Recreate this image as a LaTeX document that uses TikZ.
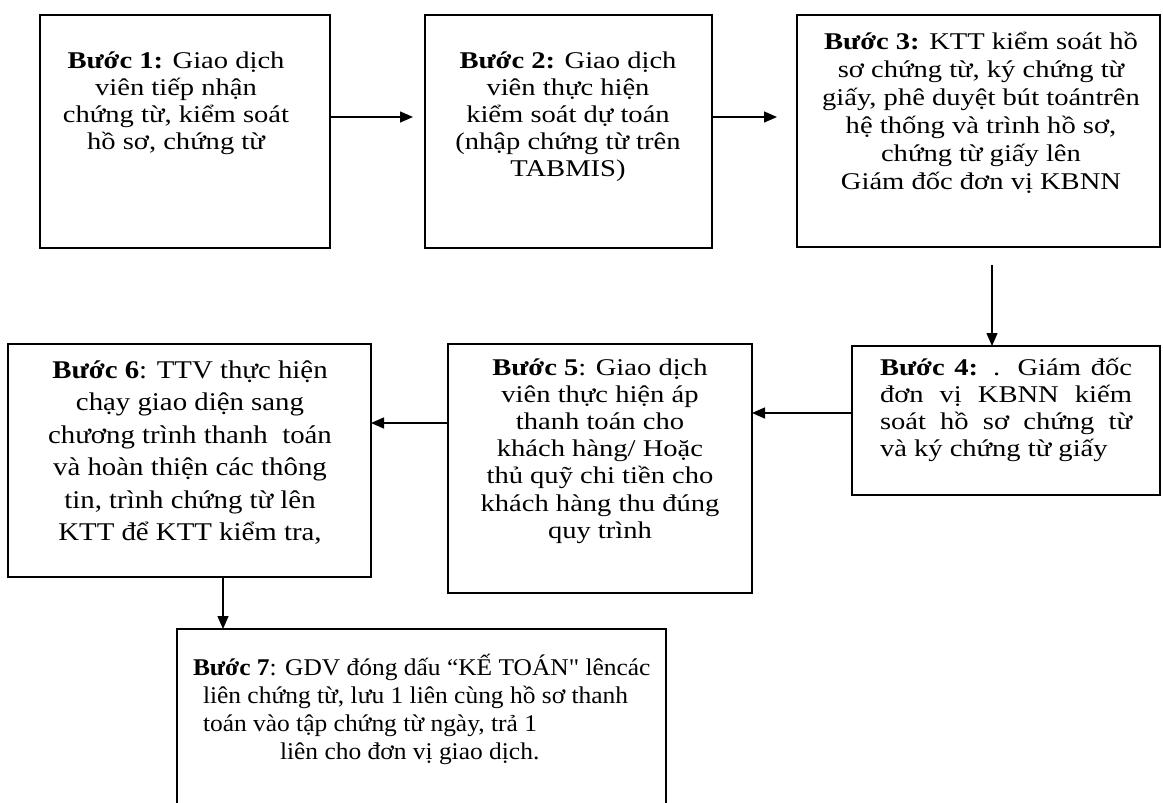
\documentclass[tikz,border=0pt]{standalone}
\usepackage{fontspec}
\newfontfamily\widefont[FakeStretch=1.19]{Liberation Serif}
\newfontfamily\midfont[FakeStretch=1.13]{Liberation Serif}
\newfontfamily\narrowfont[FakeStretch=1.06]{Liberation Serif}
\usetikzlibrary{arrows.meta}
\newcommand\tstrut{\rule{0pt}{21pt}}
\begin{document}
\begin{tikzpicture}[x=1pt,y=-1pt,
 box/.style={draw, line width=1.4pt, rectangle, inner sep=0pt, outer sep=0pt},
 txt/.style={inner sep=0pt, outer sep=0pt, font=\widefont\fontsize{24}{28}\selectfont, align=center, anchor=north},
 arr/.style={line width=1.4pt, -{Triangle[length=13pt,width=11pt]}}]
\useasboundingbox (0,0) rectangle (1163,803);
\clip (0,0) rectangle (1163,803);
\fill[white] (0,0) rectangle (1163,803);
% boxes
\node[box, minimum width=290pt, minimum height=233pt] (b1) at (185,131.5) {};
\node[box, minimum width=287pt, minimum height=233pt] (b2) at (568.5,131.5) {};
\node[box, minimum width=363pt, minimum height=232pt] (b3) at (978.5,131) {};
\node[box, minimum width=308pt, minimum height=149pt] (b4) at (1006,420.5) {};
\node[box, minimum width=304pt, minimum height=249pt] (b5) at (600,468.5) {};
\node[box, minimum width=363pt, minimum height=233pt] (b6) at (189.5,460.5) {};
\node[box, minimum width=489pt, minimum height=191pt] (b7) at (421.5,724.5) {};
% texts
\node[txt, font=\widefont\fontsize{24}{27}\selectfont] (t1) at (176,47) {\tstrut\textbf{Bước 1:} Giao dịch\\ viên tiếp nhận\\ chứng từ, kiểm soát\\ hồ sơ, chứng từ};
\node[txt, font=\widefont\fontsize{24}{27}\selectfont] (t2) at (568,47) {\tstrut\textbf{Bước 2:} Giao dịch\\ viên thực hiện\\ kiểm soát dự toán\\ (nhập chứng từ trên\\ TABMIS)};
\node[txt] (t3) at (981,28) {\tstrut\textbf{Bước 3:} KTT kiểm soát hồ\\ sơ chứng từ, ký chứng từ\\ giấy, phê duyệt bút toántrên\\ hệ thống và trình hồ sơ,\\ chứng từ giấy lên\\ Giám đốc đơn vị KBNN};
\node[txt, font=\widefont\fontsize{24}{27}\selectfont, anchor=north west, text width=252pt, align=justify] (t4) at (880,354) {\tstrut\textbf{Bước 4:} . Giám đốc\linebreak đơn vị KBNN kiếm\linebreak soát hồ sơ chứng từ\linebreak và ký chứng từ giấy};
\node[txt, font=\widefont\fontsize{24}{27.2}\selectfont] (t5) at (600,354) {\tstrut\textbf{Bước 5}: Giao dịch\\ viên thực hiện áp\\ thanh toán cho\\ khách hàng/ Hoặc\\ thủ quỹ chi tiền cho\\ khách hàng thu đúng\\ quy trình};
\node[txt, font=\midfont\fontsize{25.5}{32.5}\selectfont] (t6) at (190,356) {\rule{0pt}{22pt}\textbf{Bước 6}: TTV thực hiện\\ chạy giao diện sang\\ chương trình thanh\ \ toán\\ và hoàn thiện các thông\\ tin, trình chứng từ lên\\ KTT để KTT kiểm tra,};
\node[txt, font=\narrowfont\fontsize{24}{28}\selectfont, anchor=north west, align=left] (t7) at (193,654) {\tstrut\textbf{Bước 7}: GDV đóng dấu “KẾ TOÁN" lêncác\\ \hspace*{10pt}liên chứng từ, lưu 1 liên cùng hồ sơ thanh\\ \hspace*{10pt}toán vào tập chứng từ ngày, trả 1\\ \hspace*{87pt}liên cho đơn vị giao dịch.};
% arrows
\draw[arr, shorten >=12pt] ([yshift=14.5pt]b1.east) -- ([yshift=14.5pt]b1.east -| b2.west);
\draw[arr, shorten >=20pt] ([yshift=14.5pt]b2.east) -- ([yshift=14.5pt]b2.east -| b3.west);
\draw[arr, shorten <=18pt] ([xshift=13.5pt]b3.south) -- ([xshift=13.5pt]b3.south |- b4.north);
\draw[arr] ([yshift=7.5pt]b4.west) -- ([yshift=7.5pt]b4.west -| b5.east);
\draw[arr] ([yshift=45.5pt]b5.west) -- ([yshift=45.5pt]b5.west -| b6.east);
\draw[arr] ([xshift=33.5pt]b6.south) -- ([xshift=33.5pt]b6.south |- b7.north);
\end{tikzpicture}
\end{document}
